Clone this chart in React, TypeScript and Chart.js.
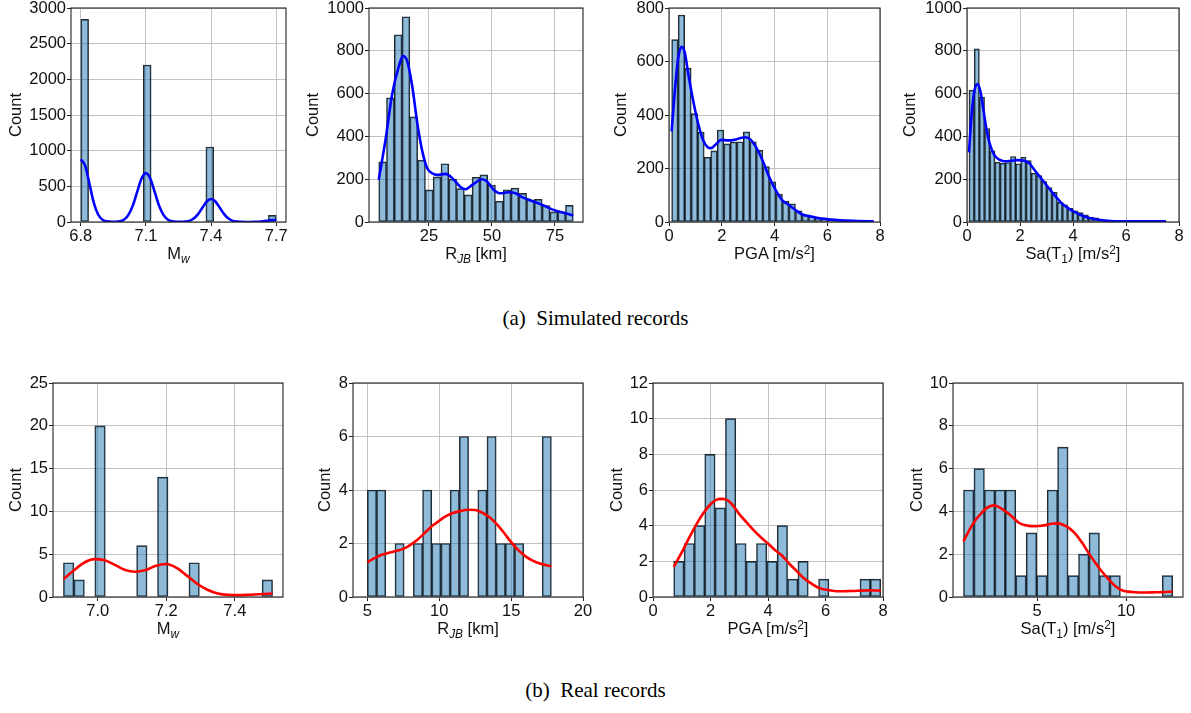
import React, { useEffect, useRef } from "react";
import { Chart, registerables } from "chart.js";
Chart.register(...registerables);

// ---------------- DATA ----------------
// (a) Simulated records
const simMwBinStart = 6.8;
const simMwBinWidth = 0.036;
const simMwCounts = [2841, 0, 0, 0, 0, 0, 0, 0, 2201, 0, 0, 0, 0, 0, 0, 0, 1051, 0, 0, 0, 0, 0, 0, 0, 93];
const simMwKdeX = [6.80, 6.82, 6.84, 6.86, 6.88, 6.90, 6.92, 6.94, 6.96, 6.98, 7.00, 7.02, 7.04, 7.06, 7.08, 7.10, 7.12, 7.14, 7.16, 7.18, 7.20, 7.22, 7.24, 7.26, 7.28, 7.30, 7.32, 7.34, 7.36, 7.38, 7.40, 7.42, 7.44, 7.46, 7.48, 7.50, 7.52, 7.54, 7.56, 7.58, 7.60, 7.62, 7.64, 7.66, 7.68, 7.70];
const simMwKdeY = [880, 790, 535, 270, 105, 32, 9, 4, 4, 10, 34, 103, 233, 425, 610, 685, 610, 425, 233, 103, 34, 10, 3, 3, 6, 16, 48, 110, 200, 287, 322, 287, 200, 110, 48, 16, 6, 2, 1, 1, 2, 4, 10, 18, 26, 29];
const simMwXTicks = [6.8, 7.1, 7.4, 7.7];
const simMwXLabels = ["6.8", "7.1", "7.4", "7.7"];
const simMwYTicks = [0, 500, 1000, 1500, 2000, 2500, 3000];

const simRBinStart = 5.1;
const simRBinWidth = 3.088;
const simRCounts = [281, 580, 875, 959, 491, 289, 150, 211, 272, 200, 156, 127, 209, 220, 173, 97, 150, 158, 134, 103, 106, 77, 47, 47, 78];
const simRKdeX = [5.1, 7.8, 10.4, 13.1, 14.7, 16.4, 18.4, 20.4, 22.4, 24.3, 26.3, 28.3, 31.6, 34.3, 37.6, 39.6, 42.2, 46.2, 48.1, 50.8, 53.4, 56.7, 59.4, 62.0, 66.0, 70.0, 73.9, 79.2, 82.3];
const simRKdeY = [197, 384, 595, 728, 775, 752, 634, 462, 330, 252, 228, 220, 225, 205, 163, 153, 173, 200, 189, 150, 134, 139, 134, 116, 98, 80, 59, 41, 30];
const simRXTicks = [25, 50, 75];
const simRXLabels = ["25", "50", "75"];
const simRYTicks = [0, 200, 400, 600, 800, 1000];

const simPgaBinStart = 0.1;
const simPgaBinWidth = 0.2471;
const simPgaCounts = [682, 774, 575, 405, 336, 242, 266, 344, 292, 299, 300, 337, 300, 268, 207, 150, 104, 78, 68, 42, 26, 22, 15, 9, 6, 4, 3, 2, 1, 1, 1];
const simPgaKdeX = [0.1, 0.225, 0.35, 0.475, 0.6, 0.725, 0.91, 1.1, 1.29, 1.475, 1.6, 1.79, 1.975, 2.225, 2.475, 2.725, 2.9, 3.1, 3.29, 3.54, 3.79, 4.04, 4.29, 4.54, 4.79, 5.04, 5.41, 5.79, 6.16, 6.66, 7.16, 7.76];
const simPgaKdeY = [339, 495, 614, 655, 632, 557, 457, 370, 307, 279, 276, 292, 307, 305, 307, 314, 317, 307, 282, 232, 170, 120, 82, 64, 45, 29, 20, 12.5, 9, 5, 4, 2.5];
const simPgaXTicks = [0, 2, 4, 6, 8];
const simPgaXLabels = ["0", "2", "4", "6", "8"];
const simPgaYTicks = [0, 200, 400, 600, 800];

const simSaBinStart = 0.075;
const simSaBinWidth = 0.1958;
const simSaCounts = [616, 809, 584, 437, 333, 280, 275, 278, 306, 272, 303, 287, 228, 217, 189, 161, 139, 92, 80, 64, 52, 44, 33, 23, 20, 12, 8, 6, 4, 3, 2, 2, 1, 1, 1, 0, 1, 1];
const simSaKdeX = [0.075, 0.19, 0.29, 0.39, 0.49, 0.6, 0.725, 0.85, 1.04, 1.225, 1.41, 1.66, 1.91, 2.16, 2.35, 2.54, 2.79, 3.04, 3.29, 3.54, 3.79, 4.04, 4.29, 4.66, 5.04, 5.41, 6.16, 6.91, 7.51];
const simSaKdeY = [325, 525, 619, 645, 619, 540, 439, 369, 311, 291, 284, 286, 289, 286, 275, 244, 205, 166, 127, 92, 67, 48, 33, 17, 9, 5, 3, 3, 3];
const simSaXTicks = [0, 2, 4, 6, 8];
const simSaXLabels = ["0", "2", "4", "6", "8"];
const simSaYTicks = [0, 200, 400, 600, 800, 1000];

// (b) Real records
const realMwBinStart = 6.9;
const realMwBinWidth = 0.0305;
const realMwCounts = [4, 2, 0, 20, 0, 0, 0, 6, 0, 14, 0, 0, 4, 0, 0, 0, 0, 0, 0, 2];
const realMwKdeX = [6.90, 6.93, 6.96, 6.99, 7.02, 7.05, 7.08, 7.11, 7.14, 7.17, 7.20, 7.23, 7.26, 7.29, 7.32, 7.35, 7.38, 7.41, 7.44, 7.47, 7.51];
const realMwKdeY = [2.1, 3.1, 4.0, 4.42, 4.3, 3.75, 3.15, 2.95, 3.15, 3.65, 3.85, 3.4, 2.5, 1.55, 0.85, 0.42, 0.25, 0.22, 0.26, 0.33, 0.4];
const realMwXTicks = [7.0, 7.2, 7.4];
const realMwXLabels = ["7.0", "7.2", "7.4"];
const realMwYTicks = [0, 5, 10, 15, 20, 25];

const realRBinStart = 5.0;
const realRBinWidth = 0.64;
const realRCounts = [4, 4, 0, 2, 0, 2, 4, 2, 2, 4, 6, 0, 4, 6, 2, 2, 2, 0, 0, 6];
const realRKdeX = [5.0, 5.5, 6.0, 6.5, 7.0, 7.5, 8.0, 8.5, 9.0, 9.5, 10.0, 10.5, 11.0, 11.5, 12.0, 12.5, 13.0, 13.5, 14.0, 14.5, 15.0, 15.5, 16.0, 16.5, 17.0, 17.8];
const realRKdeY = [1.3, 1.45, 1.58, 1.65, 1.72, 1.8, 1.95, 2.15, 2.4, 2.65, 2.85, 3.03, 3.15, 3.22, 3.26, 3.25, 3.15, 2.98, 2.72, 2.4, 2.05, 1.75, 1.52, 1.36, 1.25, 1.15];
const realRXTicks = [5, 10, 15, 20];
const realRXLabels = ["5", "10", "15", "20"];
const realRYTicks = [0, 2, 4, 6, 8];

const realPgaBinStart = 0.72;
const realPgaBinWidth = 0.36;
const realPgaCounts = [2, 3, 4, 8, 5, 10, 3, 2, 3, 2, 4, 1, 2, 0, 1, 0, 0, 0, 1, 1];
const realPgaKdeX = [0.72, 1.0, 1.25, 1.5, 1.75, 2.0, 2.2, 2.4, 2.6, 2.8, 3.0, 3.25, 3.5, 3.75, 4.0, 4.25, 4.5, 4.75, 5.0, 5.25, 5.5, 5.75, 6.0, 6.25, 6.5, 6.75, 7.0, 7.25, 7.5, 7.92];
const realPgaKdeY = [1.69, 2.5, 3.3, 4.05, 4.7, 5.2, 5.45, 5.5, 5.42, 5.1, 4.65, 4.2, 3.75, 3.35, 3.0, 2.62, 2.3, 1.85, 1.45, 1.05, 0.76, 0.52, 0.42, 0.35, 0.32, 0.33, 0.34, 0.36, 0.37, 0.36];
const realPgaXTicks = [0, 2, 4, 6, 8];
const realPgaXLabels = ["0", "2", "4", "6", "8"];
const realPgaYTicks = [0, 2, 4, 6, 8, 10, 12];

const realSaBinStart = 0.86;
const realSaBinWidth = 0.588;
const realSaCounts = [5, 6, 5, 5, 5, 1, 3, 1, 5, 7, 1, 2, 3, 1, 1, 0, 0, 0, 0, 1];
const realSaKdeX = [0.86, 1.2, 1.54, 1.85, 2.1, 2.57, 2.85, 3.22, 3.6, 3.97, 4.35, 4.72, 5.1, 5.47, 5.8, 6.12, 6.45, 6.78, 7.15, 7.53, 7.9, 8.28, 8.65, 9.03, 9.4, 9.78, 10.1, 10.52, 11.1, 11.65, 12.1, 12.62];
const realSaKdeY = [2.6, 3.15, 3.6, 3.9, 4.12, 4.28, 4.2, 4.0, 3.75, 3.47, 3.35, 3.31, 3.32, 3.36, 3.42, 3.44, 3.38, 3.23, 2.95, 2.53, 2.05, 1.59, 1.18, 0.81, 0.5, 0.31, 0.25, 0.22, 0.21, 0.22, 0.23, 0.25];
const realSaXTicks = [5, 10];
const realSaXLabels = ["5", "10"];
const realSaYTicks = [0, 2, 4, 6, 8, 10];

const captionA = "(a)\u2002Simulated records";
const captionB = "(b)\u2002Real records";

// ---------------- STYLE / LAYOUT ----------------
const FONT = "'Liberation Sans', Arial, sans-serif";
const FONT_SIZE = 16.5;
const GRID = "#c2c2c2";
const BAR_FILL = "rgba(31,119,180,0.5)";
const BAR_EDGE = "rgba(15,15,15,0.9)";
const PAD_T = 12;
const PAD_R = 18;
const X_H = 30;

type PanelDef = {
  binStart: number; binWidth: number; counts: number[];
  kdeX: number[]; kdeY: number[];
  xTicks: number[]; xLabels: string[]; yTicks: number[];
  xMin: number; xMax: number;
  lineColor: string;
  area: { l: number; r: number; t: number; b: number };
  countX: number;
  xTitle: React.ReactNode;
};

const subStyle: React.CSSProperties = { fontSize: "0.72em", verticalAlign: "-0.3em", lineHeight: 0 };
const supStyle: React.CSSProperties = { fontSize: "0.72em", verticalAlign: "0.45em", lineHeight: 0 };

const tMw = <span>M<span style={{ ...subStyle, fontStyle: "italic" }}>w</span></span>;
const tR = <span>R<span style={{ ...subStyle, fontStyle: "italic" }}>JB</span> [km]</span>;
const tPga = <span>PGA [m/s<span style={supStyle}>2</span>]</span>;
const tSa = <span>Sa(T<span style={subStyle}>1</span>) [m/s<span style={supStyle}>2</span>]</span>;

const TOP = { t: 8, b: 222 };
const BOT = { t: 383, b: 597 };

const panels: PanelDef[] = [
  { binStart: simMwBinStart, binWidth: simMwBinWidth, counts: simMwCounts, kdeX: simMwKdeX, kdeY: simMwKdeY, xTicks: simMwXTicks, xLabels: simMwXLabels, yTicks: simMwYTicks, xMin: 6.755, xMax: 7.745, lineColor: "#0000ff", area: { l: 71, r: 286, ...TOP }, countX: 17, xTitle: tMw },
  { binStart: simRBinStart, binWidth: simRBinWidth, counts: simRCounts, kdeX: simRKdeX, kdeY: simRKdeY, xTicks: simRXTicks, xLabels: simRXLabels, yTicks: simRYTicks, xMin: 1.24, xMax: 86.16, lineColor: "#0000ff", area: { l: 369, r: 583, ...TOP }, countX: 314, xTitle: tR },
  { binStart: simPgaBinStart, binWidth: simPgaBinWidth, counts: simPgaCounts, kdeX: simPgaKdeX, kdeY: simPgaKdeY, xTicks: simPgaXTicks, xLabels: simPgaXLabels, yTicks: simPgaYTicks, xMin: 0, xMax: 8, lineColor: "#0000ff", area: { l: 669, r: 880, ...TOP }, countX: 622, xTitle: tPga },
  { binStart: simSaBinStart, binWidth: simSaBinWidth, counts: simSaCounts, kdeX: simSaKdeX, kdeY: simSaKdeY, xTicks: simSaXTicks, xLabels: simSaXLabels, yTicks: simSaYTicks, xMin: 0, xMax: 8, lineColor: "#0000ff", area: { l: 967, r: 1179, ...TOP }, countX: 911, xTitle: tSa },
  { binStart: realMwBinStart, binWidth: realMwBinWidth, counts: realMwCounts, kdeX: realMwKdeX, kdeY: realMwKdeY, xTicks: realMwXTicks, xLabels: realMwXLabels, yTicks: realMwYTicks, xMin: 6.8695, xMax: 7.5405, lineColor: "#ff0000", area: { l: 53, r: 283, ...BOT }, countX: 17, xTitle: tMw },
  { binStart: realRBinStart, binWidth: realRBinWidth, counts: realRCounts, kdeX: realRKdeX, kdeY: realRKdeY, xTicks: realRXTicks, xLabels: realRXLabels, yTicks: realRYTicks, xMin: 4, xMax: 20, lineColor: "#ff0000", area: { l: 353, r: 583, ...BOT }, countX: 326, xTitle: tR },
  { binStart: realPgaBinStart, binWidth: realPgaBinWidth, counts: realPgaCounts, kdeX: realPgaKdeX, kdeY: realPgaKdeY, xTicks: realPgaXTicks, xLabels: realPgaXLabels, yTicks: realPgaYTicks, xMin: 0, xMax: 8, lineColor: "#ff0000", area: { l: 653, r: 883, ...BOT }, countX: 618, xTitle: tPga },
  { binStart: realSaBinStart, binWidth: realSaBinWidth, counts: realSaCounts, kdeX: realSaKdeX, kdeY: realSaKdeY, xTicks: realSaXTicks, xLabels: realSaXLabels, yTicks: realSaYTicks, xMin: 0.27, xMax: 13.2, lineColor: "#ff0000", area: { l: 953, r: 1183, ...BOT }, countX: 918, xTitle: tSa },
];

const framePlugin = {
  id: "frame",
  afterDatasetsDraw(chart: any) {
    const { ctx, chartArea: a } = chart;
    ctx.save();
    ctx.strokeStyle = "#222";
    ctx.lineWidth = 1.1;
    ctx.strokeRect(a.left, a.top, a.right - a.left, a.bottom - a.top);
    ctx.restore();
  },
};

function Panel({ p }: { p: PanelDef }) {
  const ref = useRef<HTMLCanvasElement>(null);
  const yW = Math.round(p.area.l - p.countX + FONT_SIZE * 0.6);
  const w = yW + (p.area.r - p.area.l) + PAD_R;
  const h = PAD_T + (p.area.b - p.area.t) + X_H;
  useEffect(() => {
    const canvas = ref.current;
    if (!canvas) return;
    const centers = p.counts.map((_, i) => p.binStart + (i + 0.5) * p.binWidth);
    const font = { family: FONT, size: FONT_SIZE };
    const chart = new Chart(canvas, {
      type: "bar",
      data: {
        datasets: [
          {
            type: "line",
            data: p.kdeX.map((x, i) => ({ x, y: p.kdeY[i] })),
            borderColor: p.lineColor,
            borderWidth: 2.6,
            pointRadius: 0,
            cubicInterpolationMode: "monotone",
            fill: false,
            order: 0,
          } as any,
          {
            type: "bar",
            data: centers.map((x, i) => ({ x, y: p.counts[i] === 0 ? null : p.counts[i] })),
            backgroundColor: BAR_FILL,
            borderColor: BAR_EDGE,
            borderWidth: 1,
            borderSkipped: false,
            barPercentage: 1,
            categoryPercentage: 1,
            order: 1,
          } as any,
        ],
      },
      options: {
        animation: false,
        responsive: false,
        devicePixelRatio: 1,
        layout: { padding: { top: PAD_T, right: PAD_R, left: 0, bottom: 0 } },
        plugins: { legend: { display: false }, tooltip: { enabled: false } },
        scales: {
          x: {
            type: "linear",
            min: p.xMin,
            max: p.xMax,
            offset: false,
            grid: { offset: false, color: GRID, lineWidth: 1, drawTicks: true, tickLength: 4, tickColor: "#222" },
            border: { display: false },
            ticks: {
              font,
              color: "#111",
              padding: 1,
              maxRotation: 0,
              autoSkip: false,
              callback: (_v: any, i: number) => p.xLabels[i],
            },
            afterBuildTicks: (scale: any) => {
              scale.ticks = p.xTicks.map((v) => ({ value: v }));
            },
            afterFit: (scale: any) => {
              scale.height = X_H;
            },
          },
          y: {
            type: "linear",
            min: 0,
            max: p.yTicks[p.yTicks.length - 1],
            grid: { color: GRID, lineWidth: 1, drawTicks: true, tickLength: 4, tickColor: "#222" },
            border: { display: false },
            ticks: { font, color: "#111", padding: 1, autoSkip: false, callback: (v: any) => String(v) },
            afterBuildTicks: (scale: any) => {
              scale.ticks = p.yTicks.map((v) => ({ value: v }));
            },
            title: { display: true, text: "Count", font, color: "#111", padding: { top: 0, bottom: 0 } },
            afterFit: (scale: any) => {
              scale.width = yW;
            },
          },
        },
      } as any,
      plugins: [framePlugin],
    });
    return () => chart.destroy();
  }, []);
  const cx = (p.area.l + p.area.r) / 2;
  return (
    <>
      <div style={{ position: "absolute", left: p.area.l - yW, top: p.area.t - PAD_T, width: w, height: h }}>
        <canvas ref={ref} width={w} height={h} style={{ width: w, height: h, display: "block" }} />
      </div>
      <div
        style={{
          position: "absolute",
          left: cx - 100,
          width: 200,
          top: p.area.b + 22,
          textAlign: "center",
          fontFamily: FONT,
          fontSize: FONT_SIZE,
          lineHeight: "19px",
          color: "#111",
          whiteSpace: "nowrap",
        }}
      >
        {p.xTitle}
      </div>
    </>
  );
}

export default function App() {
  const captionStyle: React.CSSProperties = {
    position: "absolute",
    left: 0,
    width: 1191,
    textAlign: "center",
    fontFamily: "'Liberation Serif', 'Times New Roman', serif",
    fontSize: 21,
    lineHeight: "24px",
    color: "#000",
  };
  return (
    <div style={{ position: "absolute", left: 0, top: 0, width: 1191, height: 713, background: "#fff", overflow: "hidden" }}>
      {panels.map((p, i) => (
        <Panel key={i} p={p} />
      ))}
      <div style={{ ...captionStyle, top: 306 }}>{captionA}</div>
      <div style={{ ...captionStyle, top: 678 }}>{captionB}</div>
    </div>
  );
}
